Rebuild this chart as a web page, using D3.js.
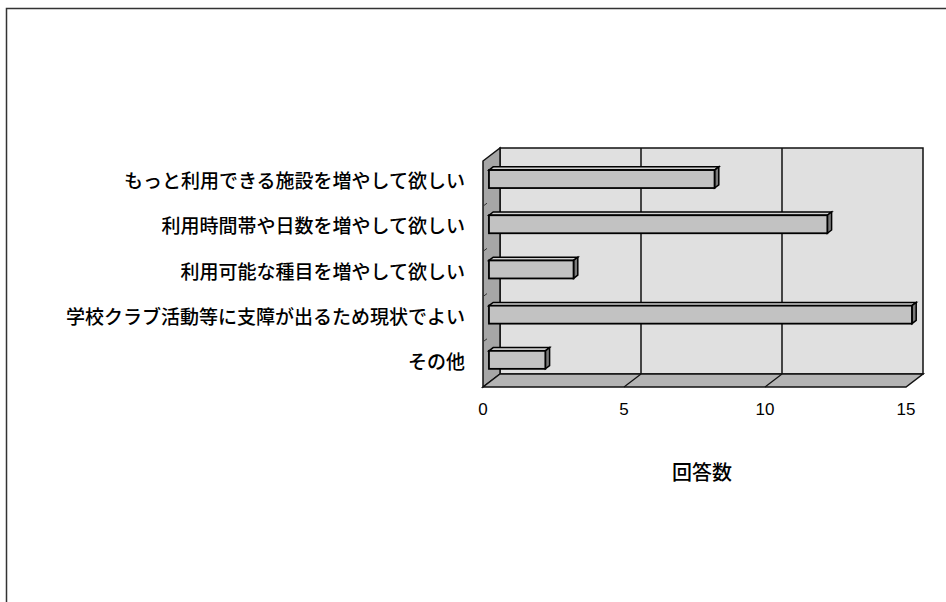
<!DOCTYPE html>
<html>
<head>
<meta charset="utf-8">
<script src="https://cdn.jsdelivr.net/npm/d3@7"></script>
<style>
  body { margin: 0; background: #fff; }
  svg { display: block; font-family: "Noto Sans CJK JP", sans-serif; }
</style>
</head>
<body>
<svg id="chart" width="946" height="602"></svg>
<script>
// answers (top to bottom)
var categories = [
    "もっと利用できる施設を増やして欲しい",
    "利用時間帯や日数を増やして欲しい",
    "利用可能な種目を増やして欲しい",
    "学校クラブ活動等に支障が出るため現状でよい",
    "その他"
];
var counts = [8, 12, 3, 15, 2];
var xTicks = [0, 5, 10, 15];
var axisTitle = "回答数";

window.onload = function() {

    var svg = d3.select("#chart");

    // outer frame (bottom runs off the page)
    svg.append("rect")
        .attr("x", 6.5).attr("y", 8.5)
        .attr("width", 945).attr("height", 620)
        .style("fill", "none")
        .style("stroke", "#333")
        .style("stroke-width", 1.5);

    // front plane of the 3d box
    var left = 483, right = 906, top = 161, bottom = 387;
    var depthX = 17, depthY = -13;

    var x = d3.scaleLinear().domain([0, 15]).range([left, right]);
    var y = d3.scaleBand().domain(categories).range([top, bottom]);

    var g = svg.append("g");
    var line = function(pts) { return "M" + pts.map(function(p) { return p.join(","); }).join("L") + "Z"; };

    // back wall
    g.append("path")
        .attr("d", line([[left + depthX, top + depthY], [right + depthX, top + depthY],
                         [right + depthX, bottom + depthY], [left + depthX, bottom + depthY]]))
        .style("fill", "#e0e0e0")
        .style("stroke", "#111").style("stroke-width", 1.5);

    // left wall
    g.append("path")
        .attr("d", line([[left, top], [left + depthX, top + depthY],
                         [left + depthX, bottom + depthY], [left, bottom]]))
        .style("fill", "#a6a6a6")
        .style("stroke", "#111").style("stroke-width", 1.5);

    // floor
    g.append("path")
        .attr("d", line([[left, bottom], [left + depthX, bottom + depthY],
                         [right + depthX, bottom + depthY], [right, bottom]]))
        .style("fill", "#b4b4b4")
        .style("stroke", "#111").style("stroke-width", 1.5);

    // gridlines on back wall + floor
    xTicks.slice(1, -1).forEach(function(t) {
        g.append("line")
            .attr("x1", x(t) + depthX).attr("x2", x(t) + depthX)
            .attr("y1", top + depthY).attr("y2", bottom + depthY)
            .style("stroke", "#111").style("stroke-width", 1.5);
        g.append("line")
            .attr("x1", x(t) + depthX).attr("x2", x(t))
            .attr("y1", bottom + depthY).attr("y2", bottom)
            .style("stroke", "#111").style("stroke-width", 1.2);
    });

    // small ticks on the left wall between categories
    categories.slice(1).forEach(function(c) {
        g.append("line")
            .attr("x1", left).attr("x2", left + 4)
            .attr("y1", y(c)).attr("y2", y(c) - 3)
            .style("stroke", "#333").style("stroke-width", 1);
    });

    // bars sit part way into the box
    var d0 = 0.35, d1 = 0.6, barH = 18;
    var bars = g.selectAll(".bar")
        .data(counts)
        .enter().append("g")
        .attr("class", "bar");

    bars.each(function(v, i) {
        var sel = d3.select(this);
        var yc = y(categories[i]) + y.bandwidth() / 2 + depthY * d0;
        var x0 = x(0) + depthX * d0, x1 = x(v) + depthX * d0;
        var ox = depthX * (d1 - d0), oy = depthY * (d1 - d0);
        var y0 = yc - barH / 2, y1 = yc + barH / 2;

        sel.append("path")
            .attr("d", line([[x0, y0], [x0 + ox, y0 + oy], [x1 + ox, y0 + oy], [x1, y0]]))
            .style("fill", "#d2d2d2")
            .style("stroke", "#000").style("stroke-width", 1.5);
        sel.append("path")
            .attr("d", line([[x1, y0], [x1 + ox, y0 + oy], [x1 + ox, y1 + oy], [x1, y1]]))
            .style("fill", "#7a7a7a")
            .style("stroke", "#000").style("stroke-width", 1.5);
        sel.append("rect")
            .attr("x", x0).attr("y", y0)
            .attr("width", x1 - x0).attr("height", barH)
            .style("fill", "#c2c2c2")
            .style("stroke", "#000").style("stroke-width", 1.8);
    });

    // category labels
    svg.selectAll(".cat")
        .data(categories)
        .enter().append("text")
        .attr("class", "cat")
        .attr("x", 465)
        .attr("y", function(d) { return y(d) + y.bandwidth() / 2 - 2; })
        .attr("dy", ".35em")
        .style("text-anchor", "end")
        .style("font-size", "19px")
        .style("font-weight", 500)
        .style("fill", "#000")
        .text(function(d) { return d; });

    // value axis labels
    svg.selectAll(".tick")
        .data(xTicks)
        .enter().append("text")
        .attr("class", "tick")
        .attr("x", function(d) { return x(d); })
        .attr("y", 409)
        .attr("dy", ".35em")
        .style("text-anchor", "middle")
        .style("font-family", "'Liberation Sans', Arial, sans-serif")
        .style("font-size", "17px")
        .text(function(d) { return d; });

    svg.append("text")
        .attr("x", 702)
        .attr("y", 473)
        .attr("dy", ".35em")
        .style("text-anchor", "middle")
        .style("font-size", "20px")
        .style("font-weight", 500)
        .text(axisTitle);
};
</script>
</body>
</html>
